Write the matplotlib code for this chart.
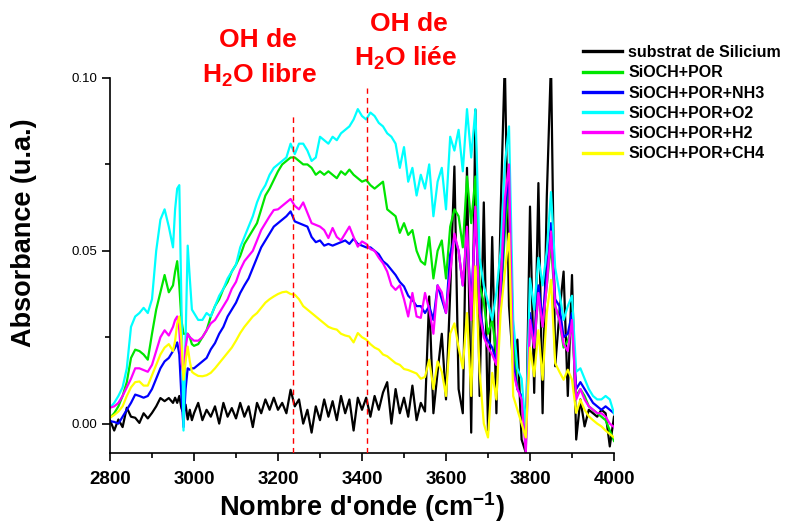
import numpy as np
import matplotlib
matplotlib.use('Agg')
import matplotlib.pyplot as plt
from matplotlib.ticker import MultipleLocator

# wavenumber grid (cm-1), finer around the 2975 artefact
wavenumber = np.r_[np.arange(2800, 2951, 10), np.arange(2955, 2996, 5), np.arange(3000, 4001, 10)]

labels = ['substrat de Silicium', 'SiOCH+POR', 'SiOCH+POR+NH3',
          'SiOCH+POR+O2', 'SiOCH+POR+H2', 'SiOCH+POR+CH4']
colors = ['#000000', '#00e600', '#0000ff', '#00ffff', '#ff00ff', '#ffff00']

silicium = [
    .001, -.002, .0012, -.001, .0046, .002, .0017, .0002, .003, .0015,
    .0031, .005, .0074, .0065, .0074, .006,
    .0075, .006, .008, .0045, .003, .0055, .0012, .004, .001,
    .003, .006, .001, .004, .002, .005, .000, .006, .002, .0045,
    .0015, .006, .002, .005, -.001, .006, .003, .007, .004, .0075,
    .004, .006, .003, .0098, .005, .007, .000, .004, -.0026, .005,
    .001, .007, .002, .0065, .001, .008, .003, .007, -.002, .0075,
    .004, .0075, .002, .008, .004, .009, .012, .000, .010, .003,
    .0075, .002, .011, .001, .006,
    .0035, .0368, .003, .015, .026, .007, .038, .0744, .010, .003,
    .074, -.0026, .0908, .008, .064, -.002, .054, .003, .061, .105,
    .034, .0166, .0243, -.0046, -.0084, .0628, .0089, .0696, .003, .0657,
    .105, .0166, .032, .044, .008, .043, -.0046, .007, -.0008, .004,
    .003, .002, .004, .003, -.0066, .002,
]

por = [
    .0017, .003, .005, .008, .012, .019, .0214, .021, .020, .0185,
    .026, .033, .038, .043, .038, .040,
    .044, .047, .040, .030, .026, .026, .026, .025, .023,
    .0225, .023, .025, .027, .031, .034, .036, .039, .041, .044,
    .046, .0485, .052, .054, .056, .058, .062, .066, .068, .0705,
    .073, .075, .076, .077, .077, .076, .075, .075, .074, .072,
    .073, .072, .073, .072, .071, .073, .072, .0735, .072, .071,
    .070, .0705, .069, .068, .069, .070, .062, .061, .060, .0552,
    .058, .0546, .056, .050, .047,
    .046, .054, .042, .050, .053, .042, .057, .062, .060, .051,
    .0715, .058, .0715, .040, .035, .026, .030, .020, .034, .055,
    .070, .025, .010, .008, -.004, .030, .022, .038, .028, .040,
    .052, .034, .030, .022, .024, .028, .008, .010, .008, .005,
    .004, .003, .002, .001, -.002, -.005,
]

por_nh3 = [
    .0007, .0005, .000, .002, .004, .006, .0084, .008, .0075, .008,
    .010, .013, .016, .018, .019, .021,
    .022, .0235, .020, .008, -.001, .010, .016, .0156, .016,
    .016, .017, .018, .019, .0215, .0233, .026, .028, .031, .033,
    .035, .0378, .040, .042, .045, .048, .051, .053, .055, .057,
    .058, .059, .060, .0614, .0585, .058, .0575, .057, .054, .0525,
    .053, .0515, .052, .0515, .052, .0525, .053, .052, .0535, .052,
    .0515, .051, .051, .050, .049, .047, .046, .0445, .043, .041,
    .0397, .037, .0358, .034, .034,
    .032, .034, .030, .040, .036, .032, .049, .054, .050, .040,
    .055, .035, .060, .034, .026, .024, .022, .018, .036, .060,
    .074, .018, .010, .008, -.003, .032, .024, .040, .030, .044,
    .058, .036, .034, .025, .026, .032, .010, .012, .010, .008,
    .006, .005, .004, .005, .004, .003,
]

por_o2 = [
    .0046, .006, .008, .0105, .016, .028, .031, .032, .0335, .032,
    .036, .050, .059, .062, .057, .051,
    .062, .068, .069, .035, -.002, .025, .0515, .042, .033,
    .032, .030, .030, .032, .031, .034, .037, .039, .042, .044,
    .046, .051, .054, .057, .060, .064, .067, .069, .072, .074,
    .075, .076, .077, .081, .078, .081, .081, .079, .076, .077,
    .083, .082, .081, .083, .082, .084, .085, .086, .088, .091,
    .089, .088, .090, .089, .087, .086, .084, .083, .081, .074,
    .080, .070, .074, .066, .072,
    .068, .075, .060, .070, .074, .062, .083, .079, .085, .073,
    .091, .077, .091, .048, .040, .035, .030, .038, .050, .075,
    .086, .030, .016, .013, -.002, .042, .033, .048, .040, .050,
    .067, .045, .038, .030, .034, .037, .015, .016, .013, .010,
    .008, .007, .007, .008, .007, .003,
]

por_h2 = [
    .0046, .005, .006, .008, .0105, .013, .016, .016, .0155, .015,
    .017, .021, .025, .027, .0255, .028,
    .030, .031, .027, .018, .014, .022, .026, .025, .0245,
    .024, .024, .025, .027, .029, .030, .032, .034, .036, .039,
    .041, .0445, .047, .0485, .050, .053, .056, .058, .060, .0618,
    .062, .063, .064, .065, .063, .062, .064, .061, .058, .0575,
    .057, .056, .0537, .0566, .054, .053, .055, .057, .054, .0512,
    .0527, .052, .0505, .050, .048, .0464, .044, .040, .0387, .040,
    .036, .031, .0378, .031, .0306,
    .0378, .033, .026, .040, .038, .032, .0436, .055, .050, .040,
    .057, .030, .0628, .032, .025, .022, .020, .017, .040, .065,
    .075, .015, .010, .007, -.0084, .030, .022, .0378, .028, .040,
    .0556, .034, .030, .023, .021, .030, .007, .010, .007, .005,
    .004, .003, .003, .002, .000, -.001,
]

por_ch4 = [
    .0017, .0025, .0035, .005, .008, .0105, .012, .0122, .011, .011,
    .014, .017, .020, .022, .023, .021,
    .024, .029, .031, .024, .0127, .018, .0223, .018, .015,
    .0145, .0138, .0137, .014, .0147, .016, .0175, .019, .0205, .022,
    .024, .0262, .028, .0295, .031, .032, .0335, .035, .036, .0368,
    .0375, .038, .0382, .0375, .0373, .036, .034, .033, .032, .031,
    .030, .029, .028, .0275, .0272, .026, .0255, .0252, .0235, .0262,
    .025, .0243, .023, .022, .0214, .020, .0195, .0185, .0175, .017,
    .0158, .0155, .015, .0145, .013,
    .0135, .0185, .010, .018, .015, .008, .026, .029, .022, .016,
    .032, .008, .0455, .015, .000, -.004, .0147, .007, .032, .0436,
    .055, .008, .004, .000, -.004, .022, .0137, .027, .0127, .032,
    .0416, .0175, .015, .0127, .0156, .0127, .0031, .0069, .004, .0021,
    .001, .000, -.0008, -.002, -.003, -.004,
]

peak_positions = [3236, 3413]
peak_tops = [0.0893, 0.0971]

plt.rcParams['font.family'] = ['Liberation Sans', 'DejaVu Sans']
plt.rcParams['mathtext.fontset'] = 'custom'
plt.rcParams['mathtext.rm'] = 'Liberation Sans:bold'
plt.rcParams['mathtext.bf'] = 'Liberation Sans:bold'
plt.rcParams['mathtext.default'] = 'bf'

W, H = 787, 523
fig = plt.figure(figsize=(W / 100, H / 100), dpi=100)
ax = fig.add_axes([110 / W, 1 - 453 / H, 504 / W, 375 / H])

series = [silicium, por, por_nh3, por_o2, por_h2, por_ch4]
for values, label, color in zip(series, labels, colors):
    ax.plot(wavenumber, values, color=color, lw=1.6, label=label)

ax.vlines(peak_positions, -0.0085, peak_tops, colors='red', linestyles=(0, (4, 3)),
          lw=1.0, zorder=5)

ax.set_xlim(2800, 4000)
ax.set_ylim(-0.0085, 0.10)
for side in ['top', 'right']:
    ax.spines[side].set_visible(False)
ax.spines['left'].set_linewidth(1.2)
ax.spines['bottom'].set_linewidth(1.2)

ax.xaxis.set_major_locator(MultipleLocator(200))
ax.xaxis.set_minor_locator(MultipleLocator(100))
ax.yaxis.set_minor_locator(MultipleLocator(0.025))
ax.set_yticks([0, 0.05, 0.10])
ax.set_yticklabels(['0.00', '0.05', '0.10'])
ax.tick_params(which='major', direction='out', length=6, width=1.2)
ax.tick_params(which='minor', direction='out', length=3.5, width=1.2)
ax.tick_params(axis='y', labelsize=9.5, pad=3)
ax.tick_params(axis='x', labelsize=13.5, pad=7)
for lbl in ax.get_xticklabels():
    lbl.set_fontweight('bold')

fig.text(362 / W, 1 - 516 / H, "Nombre d'onde (cm$^{-1}$)", fontsize=19.5,
         fontweight='bold', ha='center', va='baseline')
fig.text(24 / W, 1 - 233 / H, 'Absorbance (u.a.)', fontsize=19.5,
         fontweight='bold', ha='center', va='center', rotation=90)

# annotations
for x, y, s in [(258, 40, 'OH de'), (259, 75, 'H$_2$O libre'),
                (409, 24, 'OH de'), (406, 58, 'H$_2$O liée')]:
    fig.text(x / W, 1 - y / H, s, color='red', fontsize=19, fontweight='bold',
             ha='center', va='center')

ax.legend(loc='upper left', bbox_to_anchor=(583 / W, 1 - 45 / H),
          bbox_transform=fig.transFigure, frameon=False,
          prop={'weight': 'bold', 'size': 11.5}, handlelength=2.45,
          handletextpad=0.37, labelspacing=0.33, borderaxespad=0, borderpad=0)
for line in ax.get_legend().get_lines():
    line.set_linewidth(2.4)

fig.savefig('out.png', dpi=100)
